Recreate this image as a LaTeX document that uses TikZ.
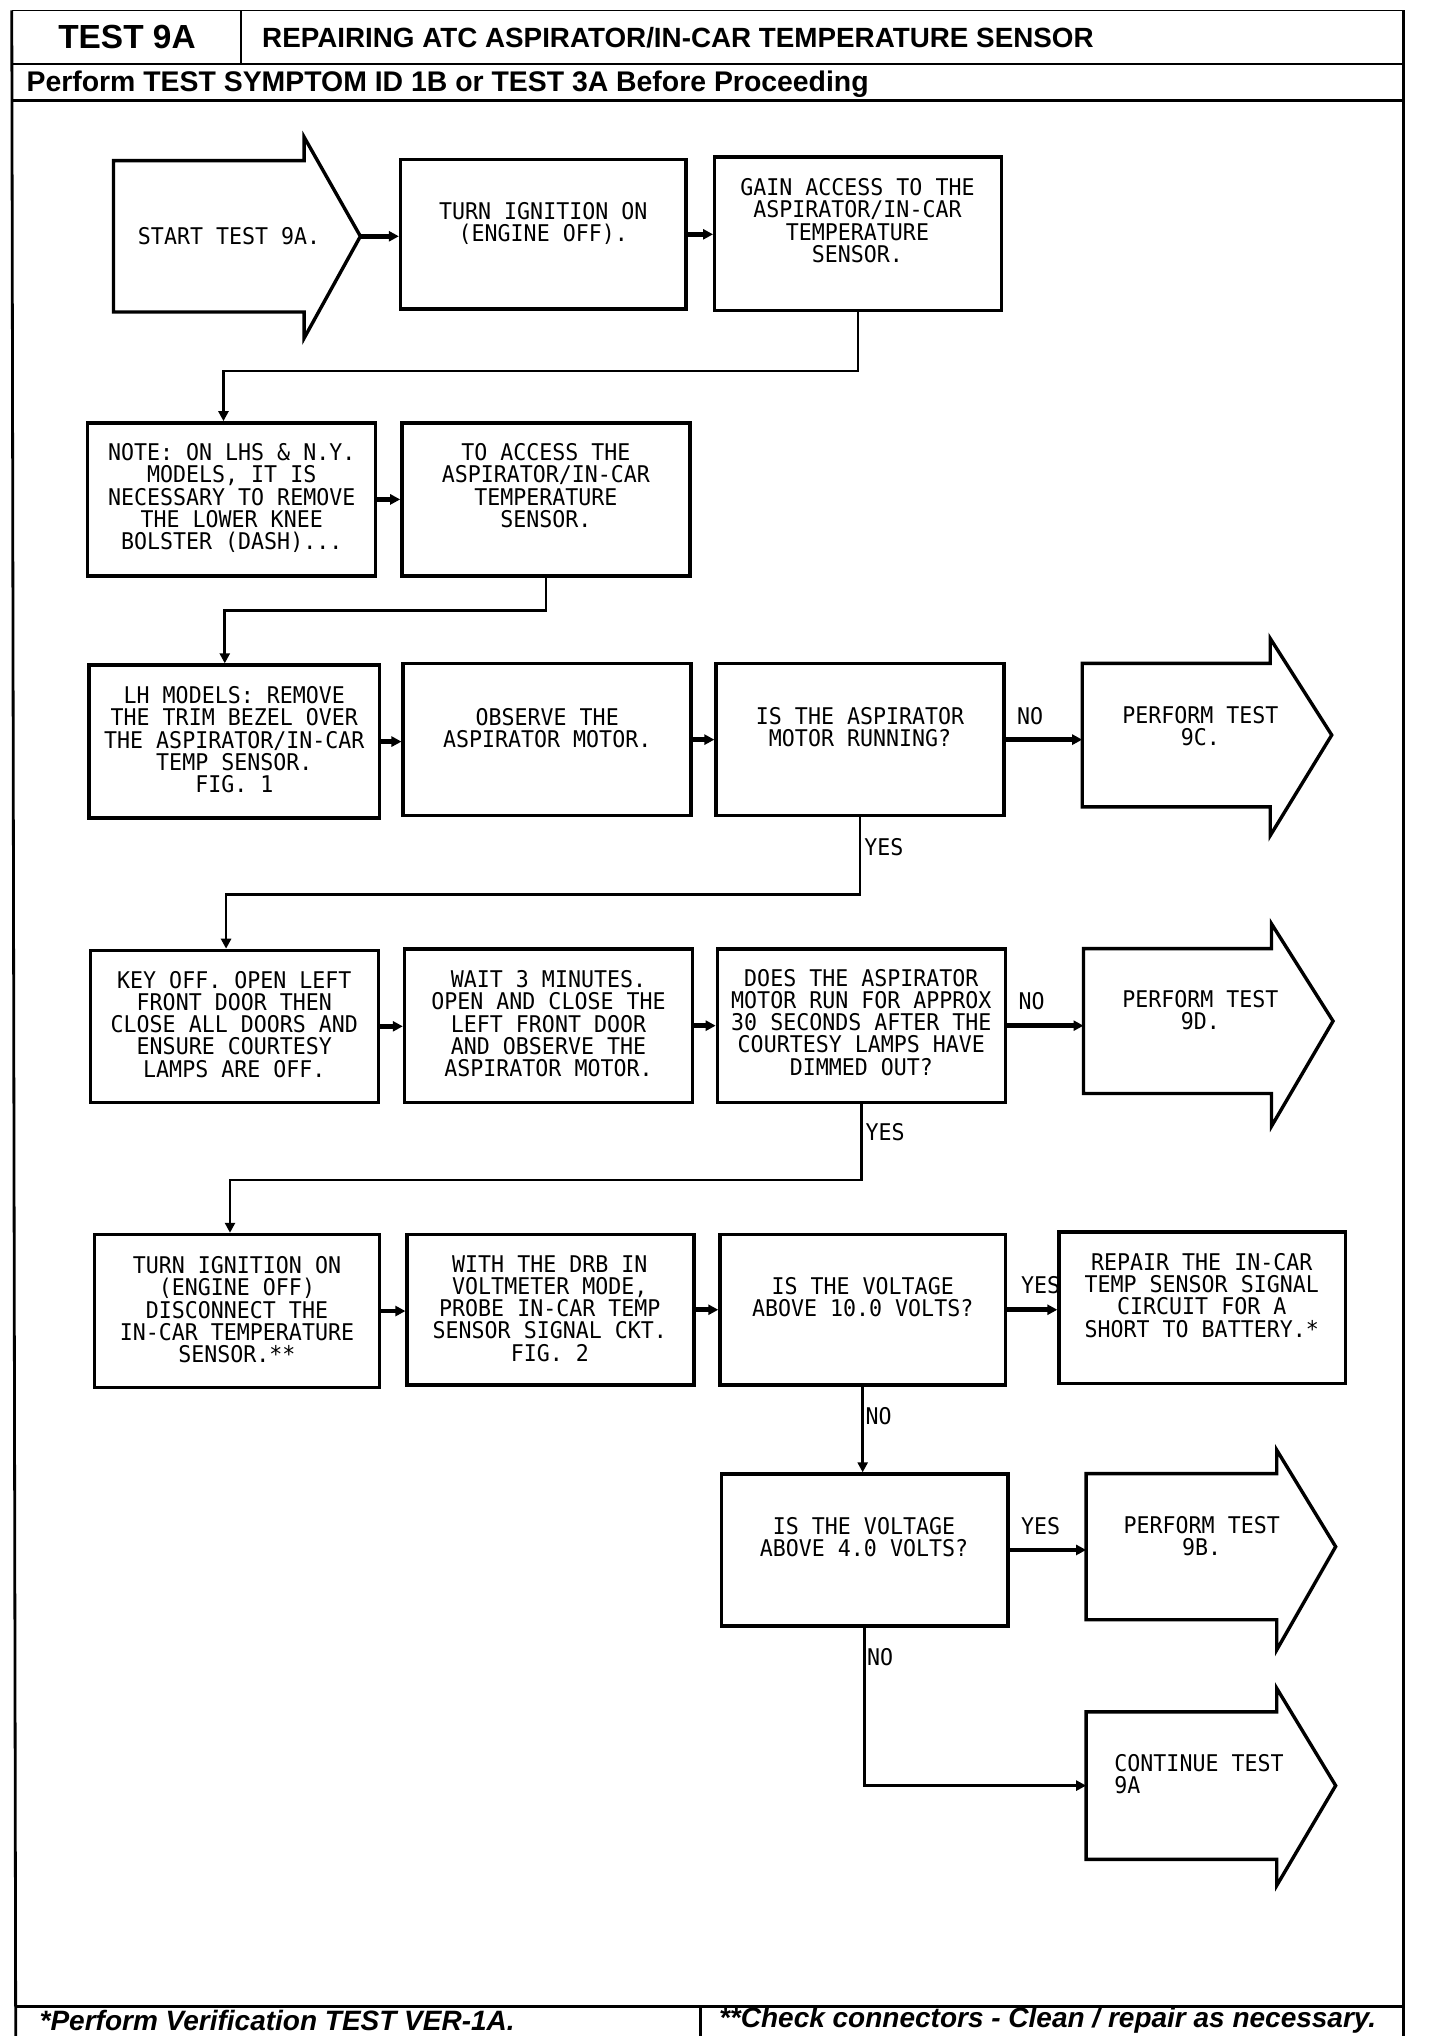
\documentclass[tikz,border=0pt]{standalone}
\usepackage{fontspec}
\setmainfont{Liberation Sans}
\newfontfamily\plotfont[FakeStretch=0.94]{DejaVu Sans Mono}
\usetikzlibrary{arrows.meta,calc,fit}
\begin{document}
\begin{tikzpicture}[x=0.65455pt,y=-0.65455pt,
  box/.style={draw, line width=1.7pt, inner sep=0pt, rectangle},
  hold/.style={inner sep=0pt, rectangle},
  shapeline/.style={line width=1.7pt, line join=miter},
  txt/.style={font=\plotfont\fontsize{11.5}{11.1}\selectfont, align=center, inner sep=0pt},
  lbl/.style={font=\plotfont\fontsize{11.5}{11.1}\selectfont, inner sep=0pt},
  frame/.style={line width=1.4pt},
  thinframe/.style={line width=0.9pt},
  harrow/.style={line width=2.4pt, -{Triangle[length=5pt,width=5pt]}},
  conn/.style={line width=1.3pt},
  connarrow/.style={line width=1.3pt, -{Triangle[length=5pt,width=5pt]}},
  hdr/.style={font=\bfseries\fontsize{16.7}{18}\selectfont, inner sep=0pt},
  ttl/.style={font=\bfseries\fontsize{13.9}{15}\selectfont, inner sep=0pt, anchor=west},
  ftr/.style={font=\bfseries\itshape\fontsize{14}{15}\selectfont, inner sep=0pt, anchor=west}
]
\useasboundingbox (0,0) rectangle (1100,1555.3);
\fill[white] (0,0) rectangle (1100,1555.3);

% ---------- frame ----------
\draw[thinframe] (9,8) -- (1072,8);
\draw[frame] (9,8) -- (12,1556);
\draw[frame] (1072,8) -- (1072,1556);
\draw[thinframe] (9,49) -- (1072,49);
\draw[thinframe] (184,8) -- (184,49);
\draw[frame] (9,77) -- (1072,77);
\draw[frame] (12,1533) -- (1072,1533);
\draw[frame] (535,1533) -- (535,1556);

\node[hdr] (hdr) at (97,28) {TEST 9A};
\node[ttl] (title) at (200,29) {REPAIRING ATC ASPIRATOR/IN-CAR TEMPERATURE SENSOR};
\node[ttl,font=\bfseries\fontsize{14.2}{15}\selectfont] (pre) at (20,64) {Perform TEST SYMPTOM ID 1B or TEST 3A Before Proceeding};
\node[ftr] (f1) at (30,1543.5) {*Perform Verification TEST VER-1A.};
\node[ftr] (f2) at (549,1543.5) {**Check connectors - Clean / repair as necessary.};

% ---------- arrow-shaped terminals ----------
\node[hold, fit={(87,123)(232,238)}] (start) {};
\node[hold, fit={(827,507)(970,616)}] (a9c) {};
\node[hold, fit={(828,725)(971,835)}] (a9d) {};
\node[hold, fit={(830,1126)(975,1237)}] (a9b) {};
\node[hold, fit={(830,1308)(975,1420)}] (acont) {};
\foreach \n/\up/\dn/\len in {start/18/20/43, a9c/19/22/47, a9d/19/25/47, a9b/18/23/45, acont/18/20/45}{
  \draw[shapeline] (\n.north east) -- (\n.north west) -- (\n.south west) -- (\n.south east)
     -- ($(\n.south east)+(0,\dn)$) -- ($(\n.east)+(\len,0)$) -- ($(\n.north east)+(0,-\up)$) -- cycle;
}
\coordinate (starttip) at ($(start.east)+(43,0)$);

% ---------- boxes ----------
\node[box, fit={(306,122)(524,236)}] (b2) {};
\node[box, fit={(546,120)(765,237)}] (b3) {};
\node[box, fit={(67,323)(287,440)}] (b4) {};
\node[box, fit={(307,323)(527,440)}] (b5) {};
\node[box, fit={(68,508)(290,625)}] (b6) {};
\node[box, fit={(308,507)(528,623)}] (b7) {};
\node[box, fit={(547,507)(767,623)}] (b8) {};
\node[box, fit={(69,726)(289,842)}] (b9) {};
\node[box, fit={(309,725)(529,842)}] (b10) {};
\node[box, fit={(548,725)(768,842)}] (b11) {};
\node[box, fit={(72,943)(290,1060)}] (b12) {};
\node[box, fit={(311,943)(530,1058)}] (b13) {};
\node[box, fit={(550,943)(768,1058)}] (b14) {};
\node[box, fit={(809,941)(1028,1057)}] (b15) {};
\node[box, fit={(551,1126)(770,1242)}] (b16) {};

% ---------- texts ----------
\node[txt] (tstart) at (175,180) {START TEST 9A.};
\node[txt] (t2) at (415,170.5) {TURN IGNITION ON\\(ENGINE OFF).};
\node[txt] (t3) at (655,168.5) {GAIN ACCESS TO THE\\ASPIRATOR/IN-CAR\\TEMPERATURE\\SENSOR.};
\node[txt] (t4) at (177,380.5) {NOTE: ON LHS \& N.Y.\\MODELS, IT IS\\NECESSARY TO REMOVE\\THE LOWER KNEE\\BOLSTER (DASH)...};
\node[txt] (t5) at (417,371) {TO ACCESS THE\\ASPIRATOR/IN-CAR\\TEMPERATURE\\SENSOR.};
\node[txt] (t6) at (179,565) {LH MODELS: REMOVE\\THE TRIM BEZEL OVER\\THE ASPIRATOR/IN-CAR\\TEMP SENSOR.\\FIG. 1};
\node[txt] (t7) at (418,556.5) {OBSERVE THE\\ASPIRATOR MOTOR.};
\node[txt] (t8) at (657,555.5) {IS THE ASPIRATOR\\MOTOR RUNNING?};
\node[txt] (t9c) at (917,554.5) {PERFORM TEST\\9C.};
\node[txt] (t9) at (179,782.5) {KEY OFF. OPEN LEFT\\FRONT DOOR THEN\\CLOSE ALL DOORS AND\\ENSURE COURTESY\\LAMPS ARE OFF.};
\node[txt] (t10) at (419,782) {WAIT 3 MINUTES.\\OPEN AND CLOSE THE\\LEFT FRONT DOOR\\AND OBSERVE THE\\ASPIRATOR MOTOR.};
\node[txt] (t11) at (658,781) {DOES THE ASPIRATOR\\MOTOR RUN FOR APPROX\\30 SECONDS AFTER THE\\COURTESY LAMPS HAVE\\DIMMED OUT?};
\node[txt] (t9d) at (917,771.5) {PERFORM TEST\\9D.};
\node[txt] (t12) at (181,1000.5) {TURN IGNITION ON\\(ENGINE OFF)\\DISCONNECT THE\\IN-CAR TEMPERATURE\\SENSOR.**};
\node[txt] (t13) at (420,999.5) {WITH THE DRB IN\\VOLTMETER MODE,\\PROBE IN-CAR TEMP\\SENSOR SIGNAL CKT.\\FIG. 2};
\node[txt] (t14) at (659,991) {IS THE VOLTAGE\\ABOVE 10.0 VOLTS?};
\node[txt] (t15) at (918,989.5) {REPAIR THE IN-CAR\\TEMP SENSOR SIGNAL\\CIRCUIT FOR A\\SHORT TO BATTERY.*};
\node[txt] (t16) at (660,1174.5) {IS THE VOLTAGE\\ABOVE 4.0 VOLTS?};
\node[txt] (t9b) at (918,1173.5) {PERFORM TEST\\9B.};
\node[txt, align=left, anchor=west] (tcont) at (851,1355.5) {CONTINUE TEST\\9A};

% ---------- connectors ----------
\draw[harrow] (starttip) -- (starttip -| b2.west);
\draw[harrow] (b2.east) -- (b2.east -| b3.west);
\draw[connarrow] (b3.south) -- ++(0,45) -| ($(b4.north west)+(105,0)$);
\draw[harrow] (b4.east) -- (b4.east -| b5.west);
\draw[connarrow] (b5.south) -- ++(0,25) -| ($(b6.north west)+(105,0)$);
\draw[harrow] (b6.east) -- (b6.east -| b7.west);
\draw[harrow] (b7.east) -- (b7.east -| b8.west);
\draw[harrow] (b8.east) -- (b8.east -| a9c.west);
\draw[connarrow] (b8.south) -- ++(0,59) -| ($(b9.north west)+(105,0)$);
\draw[harrow] (b9.east) -- (b9.east -| b10.west);
\draw[harrow] (b10.east) -- (b10.east -| b11.west);
\draw[harrow] (b11.east) -- (b11.east -| a9d.west);
\draw[connarrow] (b11.south) -- ++(0,58) -| ($(b12.north west)+(105,0)$);
\draw[harrow] (b12.east) -- (b12.east -| b13.west);
\draw[harrow] (b13.east) -- (b13.east -| b14.west);
\draw[harrow] (b14.east) -- (b14.east -| b15.west);
\draw[connarrow] (b14.south) -- (b14.south |- b16.north);
\draw[harrow] (b16.east) -- (b16.east -| a9b.west);
\draw[connarrow] (b16.south) |- (acont.west);

% ---------- labels ----------
\node[lbl] (no1) at (787,547) {NO};
\node[lbl, anchor=west] (yes1) at (660,647) {YES};
\node[lbl] (no2) at (788,765) {NO};
\node[lbl, anchor=west] (yes2) at (661,865) {YES};
\node[lbl] (yes3) at (795,982) {YES};
\node[lbl, anchor=west] (no3) at (661,1082) {NO};
\node[lbl] (yes4) at (795,1166) {YES};
\node[lbl, anchor=west] (no4) at (662,1266) {NO};
\end{tikzpicture}
\end{document}
